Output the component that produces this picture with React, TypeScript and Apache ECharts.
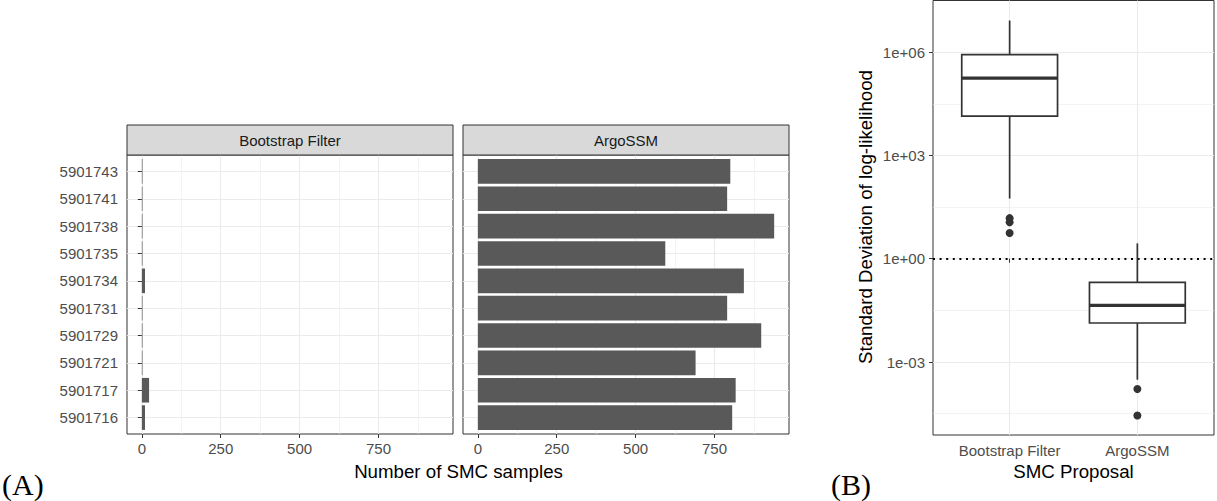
import React, { useEffect, useRef } from "react";
import * as echarts from "echarts";

// ---------- data ----------
const categories = [
  "5901716", "5901717", "5901721", "5901729", "5901731",
  "5901734", "5901735", "5901738", "5901741", "5901743",
];
const bootstrapCounts = [10, 23, 2, 2, 2, 10, 2, 2, 2, 2];
const argoCounts = [806, 817, 690, 898, 790, 843, 594, 939, 790, 800];
const countTicks = [0, 250, 500, 750];
const countMinorTicks = [125, 375, 625, 875];
const facetNames = ["Bootstrap Filter", "ArgoSSM"];

const proposals = ["Bootstrap Filter", "ArgoSSM"];
// [lower whisker, Q1, median, Q3, upper whisker] of SD of log-likelihood
const bootstrapBox = [56, 13800, 176000, 851000, 8.3e6];
const argoBox = [3.06e-4, 0.0136, 0.0441, 0.205, 2.79];
const bootstrapOutliers = [15.1, 11.4, 5.6];
const argoOutliers = [1.64e-4, 2.8e-5];
const sdTickValues = [1e-3, 1, 1e3, 1e6];
const sdTickLabels = ["1e-03", "1e+00", "1e+03", "1e+06"];
const sdMinorValues = [Math.pow(10, -4.5), Math.pow(10, -1.5), Math.pow(10, 1.5), Math.pow(10, 4.5)];
const refLine = 1;

// ---------- styles ----------
const FONT = "'Liberation Sans', Arial, Helvetica, sans-serif";
const AXIS_TEXT = "#4D4D4D";
const DARK = "#333333";
const GRID_MAJOR = { color: "#EBEBEB", width: 1.1, type: "solid" as const };
const GRID_MINOR = { color: "#EBEBEB", width: 0.6, type: "solid" as const };

const lg = (v: number) => Math.log10(v);

function gridLineSeries(xAxisIndex: number, yAxisIndex: number, items: any[]) {
  return {
    type: "line",
    xAxisIndex,
    yAxisIndex,
    data: [],
    z: 0,
    silent: true,
    markLine: {
      silent: true,
      z: 0,
      symbol: ["none", "none"],
      label: { show: false },
      emphasis: { disabled: true },
      animation: false,
      data: items,
    },
  };
}

function barRender(params: any, api: any) {
  const pos = api.value(0);
  const v = api.value(1);
  const start = api.coord([0, pos]);
  const end = api.coord([v, pos]);
  const h = api.size([0, 0.9])[1];
  return {
    type: "rect",
    shape: { x: start[0], y: start[1] - h / 2, width: end[0] - start[0], height: h },
    style: { fill: "#595959" },
  };
}

function boxRender(params: any, api: any) {
  const x = api.value(0);
  const lo = api.value(1);
  const q1 = api.value(2);
  const med = api.value(3);
  const q3 = api.value(4);
  const hi = api.value(5);
  const half = api.size([0.75, 0])[0] / 2;
  const c = (v: number) => api.coord([x, v]);
  const pLo = c(lo), pQ1 = c(q1), pMed = c(med), pQ3 = c(q3), pHi = c(hi);
  const stroke = { stroke: DARK, lineWidth: 1.7, fill: "none" };
  return {
    type: "group",
    children: [
      { type: "line", shape: { x1: pLo[0], y1: pLo[1], x2: pQ1[0], y2: pQ1[1] }, style: stroke },
      { type: "line", shape: { x1: pQ3[0], y1: pQ3[1], x2: pHi[0], y2: pHi[1] }, style: stroke },
      {
        type: "rect",
        shape: { x: pQ3[0] - half, y: pQ3[1], width: half * 2, height: pQ1[1] - pQ3[1] },
        style: { fill: "#ffffff", stroke: DARK, lineWidth: 1.7 },
      },
      {
        type: "line",
        shape: { x1: pMed[0] - half, y1: pMed[1], x2: pMed[0] + half, y2: pMed[1] },
        style: { stroke: DARK, lineWidth: 3.2 },
      },
    ],
  };
}

export default function App() {
  const ref = useRef<HTMLDivElement>(null);

  useEffect(() => {
    if (!ref.current) return;
    const chart = echarts.init(ref.current, undefined, { renderer: "svg" });

    const catPositions = categories.map((_, i) => i + 1);

    const countXAxis = (gridIndex: number) => ({
      type: "value",
      gridIndex,
      min: -47,
      max: 986,
      axisLine: { show: false },
      splitLine: { show: false },
      axisTick: {
        show: true,
        customValues: countTicks,
        length: 4,
        lineStyle: { color: DARK, width: 1 },
      },
      axisLabel: {
        customValues: countTicks,
        formatter: (v: number) => String(v),
        color: AXIS_TEXT,
        fontSize: 15,
        fontFamily: FONT,
        margin: 7,
      },
    });

    const catYAxis = (gridIndex: number, showLabels: boolean) => ({
      type: "value",
      gridIndex,
      min: 0.4,
      max: 10.6,
      axisLine: { show: false },
      splitLine: { show: false },
      axisTick: {
        show: showLabels,
        customValues: catPositions,
        length: 4,
        lineStyle: { color: DARK, width: 1 },
      },
      axisLabel: {
        show: showLabels,
        customValues: catPositions,
        formatter: (v: number) => categories[Math.round(v) - 1] ?? "",
        color: AXIS_TEXT,
        fontSize: 15,
        fontFamily: FONT,
        margin: 9,
      },
    });

    const countGridItems = [
      ...countMinorTicks.map((v) => ({ xAxis: v, lineStyle: GRID_MINOR })),
      ...countTicks.map((v) => ({ xAxis: v, lineStyle: GRID_MAJOR })),
      ...catPositions.map((v) => ({ yAxis: v, lineStyle: GRID_MAJOR })),
    ];

    const sdGridItems = [
      ...sdMinorValues.map((v) => ({ yAxis: lg(v), lineStyle: GRID_MINOR })),
      ...sdTickValues.map((v) => ({ yAxis: lg(v), lineStyle: GRID_MAJOR })),
      ...proposals.map((_, i) => ({ xAxis: i + 1, lineStyle: GRID_MAJOR })),
      { yAxis: lg(refLine), lineStyle: { color: "#000000", width: 2, type: [2, 4.6] } },
    ];

    const option: any = {
      animation: false,
      backgroundColor: "#ffffff",
      textStyle: { fontFamily: FONT },
      grid: [
        { left: 127, top: 155, width: 326, height: 279, show: true, borderColor: DARK, borderWidth: 1, backgroundColor: "#ffffff" },
        { left: 463, top: 155, width: 326, height: 279, show: true, borderColor: DARK, borderWidth: 1, backgroundColor: "#ffffff" },
        { left: 933, top: 0.5, width: 281, height: 434.5, show: true, borderColor: DARK, borderWidth: 1, backgroundColor: "#ffffff" },
      ],
      xAxis: [
        countXAxis(0),
        countXAxis(1),
        {
          type: "value",
          gridIndex: 2,
          min: 0.4,
          max: 2.6,
          axisLine: { show: false },
          splitLine: { show: false },
          axisTick: {
            show: true,
            customValues: [1, 2],
            length: 4,
            lineStyle: { color: DARK, width: 1 },
          },
          axisLabel: {
            customValues: [1, 2],
            formatter: (v: number) => proposals[Math.round(v) - 1] ?? "",
            color: AXIS_TEXT,
            fontSize: 15,
            fontFamily: FONT,
            margin: 8,
          },
        },
      ],
      yAxis: [
        catYAxis(0, true),
        catYAxis(1, false),
        {
          type: "value",
          gridIndex: 2,
          min: -5.12,
          max: 7.5,
          axisLine: { show: false },
          splitLine: { show: false },
          axisTick: {
            show: true,
            customValues: sdTickValues.map(lg),
            length: 4,
            lineStyle: { color: DARK, width: 1 },
          },
          axisLabel: {
            customValues: sdTickValues.map(lg),
            formatter: (v: number) => {
              const idx = sdTickValues.findIndex((t) => Math.abs(lg(t) - v) < 1e-6);
              return idx >= 0 ? sdTickLabels[idx] : "";
            },
            color: AXIS_TEXT,
            fontSize: 15,
            fontFamily: FONT,
            margin: 8,
          },
        },
      ],
      series: [
        gridLineSeries(0, 0, countGridItems),
        gridLineSeries(1, 1, countGridItems),
        gridLineSeries(2, 2, sdGridItems),
        {
          type: "custom",
          name: facetNames[0],
          xAxisIndex: 0,
          yAxisIndex: 0,
          z: 3,
          encode: { x: 1, y: 0 },
          data: categories.map((_, i) => [i + 1, bootstrapCounts[i]]),
          renderItem: barRender,
        },
        {
          type: "custom",
          name: facetNames[1],
          xAxisIndex: 1,
          yAxisIndex: 1,
          z: 3,
          encode: { x: 1, y: 0 },
          data: categories.map((_, i) => [i + 1, argoCounts[i]]),
          renderItem: barRender,
        },
        {
          type: "custom",
          name: "box",
          xAxisIndex: 2,
          yAxisIndex: 2,
          z: 3,
          encode: { x: 0, y: [1, 2, 3, 4, 5] },
          data: [
            [1, ...bootstrapBox.map(lg)],
            [2, ...argoBox.map(lg)],
          ],
          renderItem: boxRender,
        },
        {
          type: "scatter",
          name: "outliers",
          xAxisIndex: 2,
          yAxisIndex: 2,
          z: 4,
          symbol: "circle",
          symbolSize: 8,
          itemStyle: { color: DARK, opacity: 1 },
          data: [
            ...bootstrapOutliers.map((v) => [1, lg(v)]),
            ...argoOutliers.map((v) => [2, lg(v)]),
          ],
        },
      ],
      graphic: [
        {
          type: "rect",
          shape: { x: 127, y: 125, width: 326, height: 30 },
          style: { fill: "#D9D9D9", stroke: DARK, lineWidth: 1 },
          z: 10,
        },
        {
          type: "text",
          x: 290,
          y: 140.5,
          style: { text: facetNames[0], fill: "#1A1A1A", font: `15px ${FONT}`, align: "center", verticalAlign: "middle" },
          z: 11,
        },
        {
          type: "rect",
          shape: { x: 463, y: 125, width: 326, height: 30 },
          style: { fill: "#D9D9D9", stroke: DARK, lineWidth: 1 },
          z: 10,
        },
        {
          type: "text",
          x: 626,
          y: 140.5,
          style: { text: facetNames[1], fill: "#1A1A1A", font: `15px ${FONT}`, align: "center", verticalAlign: "middle" },
          z: 11,
        },
        {
          type: "text",
          x: 458.5,
          y: 471,
          style: { text: "Number of SMC samples", fill: "#000000", font: `18.7px ${FONT}`, align: "center", verticalAlign: "middle" },
        },
        {
          type: "text",
          x: 1073.5,
          y: 471.5,
          style: { text: "SMC Proposal", fill: "#000000", font: `18.7px ${FONT}`, align: "center", verticalAlign: "middle" },
        },
        {
          type: "text",
          x: 865,
          y: 217,
          rotation: Math.PI / 2,
          style: { text: "Standard Deviation of log-likelihood", fill: "#000000", font: `18.7px ${FONT}`, align: "center", verticalAlign: "middle" },
        },
        {
          type: "text",
          x: 2,
          y: 499,
          style: { text: "(A)", fill: "#000000", font: `30px 'Liberation Serif', 'Times New Roman', serif`, align: "left", verticalAlign: "bottom" },
        },
        {
          type: "text",
          x: 831,
          y: 499,
          style: { text: "(B)", fill: "#000000", font: `30px 'Liberation Serif', 'Times New Roman', serif`, align: "left", verticalAlign: "bottom" },
        },
      ],
    };

    chart.setOption(option);
    return () => chart.dispose();
  }, []);

  return (
    <div
      ref={ref}
      style={{ position: "fixed", left: 0, top: 0, width: 1217, height: 501, background: "#fff" }}
    />
  );
}
